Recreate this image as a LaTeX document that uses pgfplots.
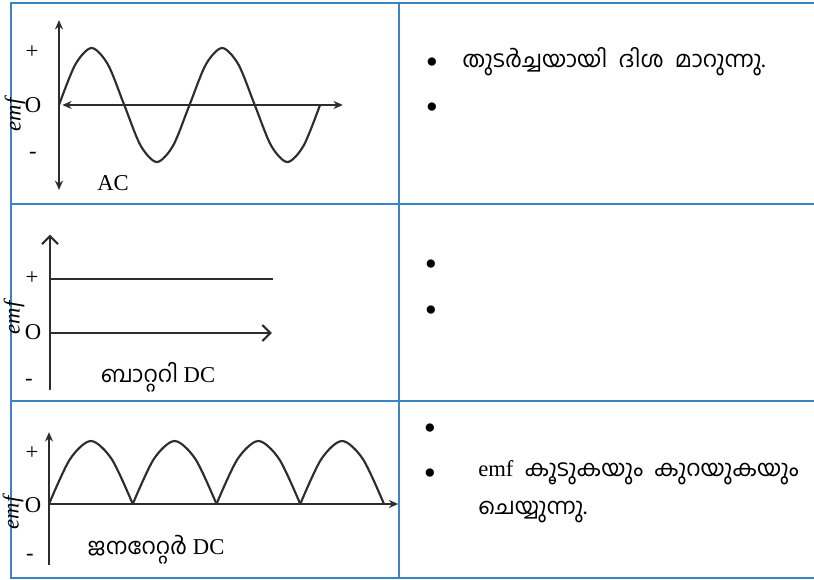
\documentclass[border=0pt]{standalone}
\usepackage{pgfplots}
\pgfplotsset{compat=1.18}
\usepackage{fontspec}
\setmainfont{Liberation Serif}
\newfontfamily\ml[Script=Malayalam]{Hind Kochi}
\usetikzlibrary{arrows.meta}
\definecolor{tblue}{RGB}{58,132,198}
\definecolor{ink}{RGB}{45,45,45}
\pgfplotsset{
  panel/.style={hide axis, clip=false, enlargelimits=false, anchor=origin},
  curve/.style={ink, line width=1.6pt, no markers},
}
\tikzset{
  axisline/.style={ink, line width=1.8pt},
  lbl/.style={font=\fontsize{17}{19}\selectfont, inner sep=0pt},
  bul/.style={font=\fontsize{26}{26}\selectfont, inner sep=0pt, yshift=-2.5pt},
  emf/.style={font=\fontsize{17}{19}\selectfont\itshape, inner sep=0pt, rotate=90},
  mltxt/.style={font=\fontsize{17}{20}\selectfont\ml, inner sep=0pt, anchor=west},
}
\begin{document}
\begin{tikzpicture}
\begin{scope}[x=0.75pt, y=-0.75pt]
  \path[use as bounding box] (0,0) rectangle (814,579);
  % table rules
  \draw[tblue, line width=1.4pt] (814,3) -- (11,3) -- (11,578) -- (814,578);
  \draw[tblue, line width=1.4pt] (11,204) -- (814,204);
  \draw[tblue, line width=1.4pt] (11,401) -- (814,401);
  \draw[tblue, line width=1.4pt] (399,3) -- (399,578);
  % origins of the three small plots
  \coordinate (acO) at (59,105);
  \coordinate (batO) at (50,333);
  \coordinate (genO) at (49,504);
  % left column labels
  \node[lbl] at (32,52) {+};
  \node[lbl] at (33,105) {O};
  \node[lbl] at (33,155) {-};
  \node[emf] at (15,115) {emf};
  \node[lbl] at (113,183) {AC};
  \node[lbl] at (32,278) {+};
  \node[lbl] at (33,332) {O};
  \node[lbl] at (29,382) {-};
  \node[emf] at (14,318) {emf};
  \node[lbl] at (158,377) {{\ml ബാറ്ററി}\ DC};
  \node[lbl] at (156,550) {{\ml ജനറേറ്റർ}\ DC};
  \node[lbl] at (32,453) {+};
  \node[lbl] at (33,505) {O};
  \node[lbl] at (30,557) {-};
  \node[emf] at (13,513) {emf};
  % right column
  \node[bul] at (432,62) {•};
  \node[bul] at (432,107) {•};
  \node[mltxt] at (462,62) {തുടർച്ചയായി\ \ ദിശ\ \ മാറുന്നു.};
  \node[bul] at (431,264) {•};
  \node[bul] at (431,310) {•};
  \node[bul] at (430,428) {•};
  \node[bul] at (430,473) {•};
  \node[mltxt] at (478,473) {{\rmfamily\fontsize{17}{19}\selectfont emf}\ \ കൂടുകയും\ \ കുറയുകയും};
  \node[mltxt] at (478,512) {ചെയ്യുന്നു.};
\end{scope}

% AC
\begin{axis}[panel, at={(acO)}, x=48.94pt, y=42.75pt,
    xmin=0, xmax=4.35, ymin=-1.5, ymax=1.5]
  \draw[axisline, {Stealth[length=7pt,width=6pt]}-{Stealth[length=7pt,width=6pt]}]
    (axis cs:0,-1.49) -- (axis cs:0,1.49);
  \draw[axisline, {Stealth[length=7pt,width=6pt]}-{Stealth[length=7pt,width=6pt]}]
    (axis cs:0.05,0) -- (axis cs:4.35,0);
  \addplot[curve, smooth] coordinates {
    (0,0) (0.25,0.71) (0.5,1) (0.75,0.71) (1,0)
    (1.25,-0.71) (1.5,-1) (1.75,-0.71) (2,0)
    (2.25,0.71) (2.5,1) (2.75,0.71) (3,0)
    (3.25,-0.71) (3.5,-1) (3.75,-0.71) (4,0)};
\end{axis}

% battery DC
\begin{axis}[panel, at={(batO)}, x=41.81pt, y=40.5pt,
    xmin=0, xmax=4, ymin=-1.06, ymax=1.82]
  \draw[axisline, line width=1.6pt, -{Straight Barb[length=6pt,width=12pt]}]
    (axis cs:0,-1.06) -- (axis cs:0,1.82);
  \draw[axisline, line width=1.6pt, -{Straight Barb[length=6pt,width=12pt]}]
    (axis cs:0,0) -- (axis cs:3.98,0);
  \addplot[curve, line width=1.8pt] coordinates {(0,1) (4,1)};
\end{axis}

% generator DC
\begin{axis}[panel, at={(genO)}, x=62.81pt, y=47.25pt,
    xmin=0, xmax=4.17, ymin=-0.97, ymax=1.15]
  \draw[axisline, -{Stealth[length=7pt,width=6pt]}]
    (axis cs:0,-0.97) -- (axis cs:0,1.14);
  \draw[axisline, -{Stealth[length=7pt,width=6pt]}]
    (axis cs:0,0) -- (axis cs:4.17,0);
  \addplot[curve, smooth] coordinates {(0,0) (0.25,0.71) (0.5,1) (0.75,0.71) (1,0)};
  \addplot[curve, smooth] coordinates {(1,0) (1.25,0.71) (1.5,1) (1.75,0.71) (2,0)};
  \addplot[curve, smooth] coordinates {(2,0) (2.25,0.71) (2.5,1) (2.75,0.71) (3,0)};
  \addplot[curve, smooth] coordinates {(3,0) (3.25,0.71) (3.5,1) (3.75,0.71) (4,0)};
\end{axis}
\end{tikzpicture}
\end{document}
